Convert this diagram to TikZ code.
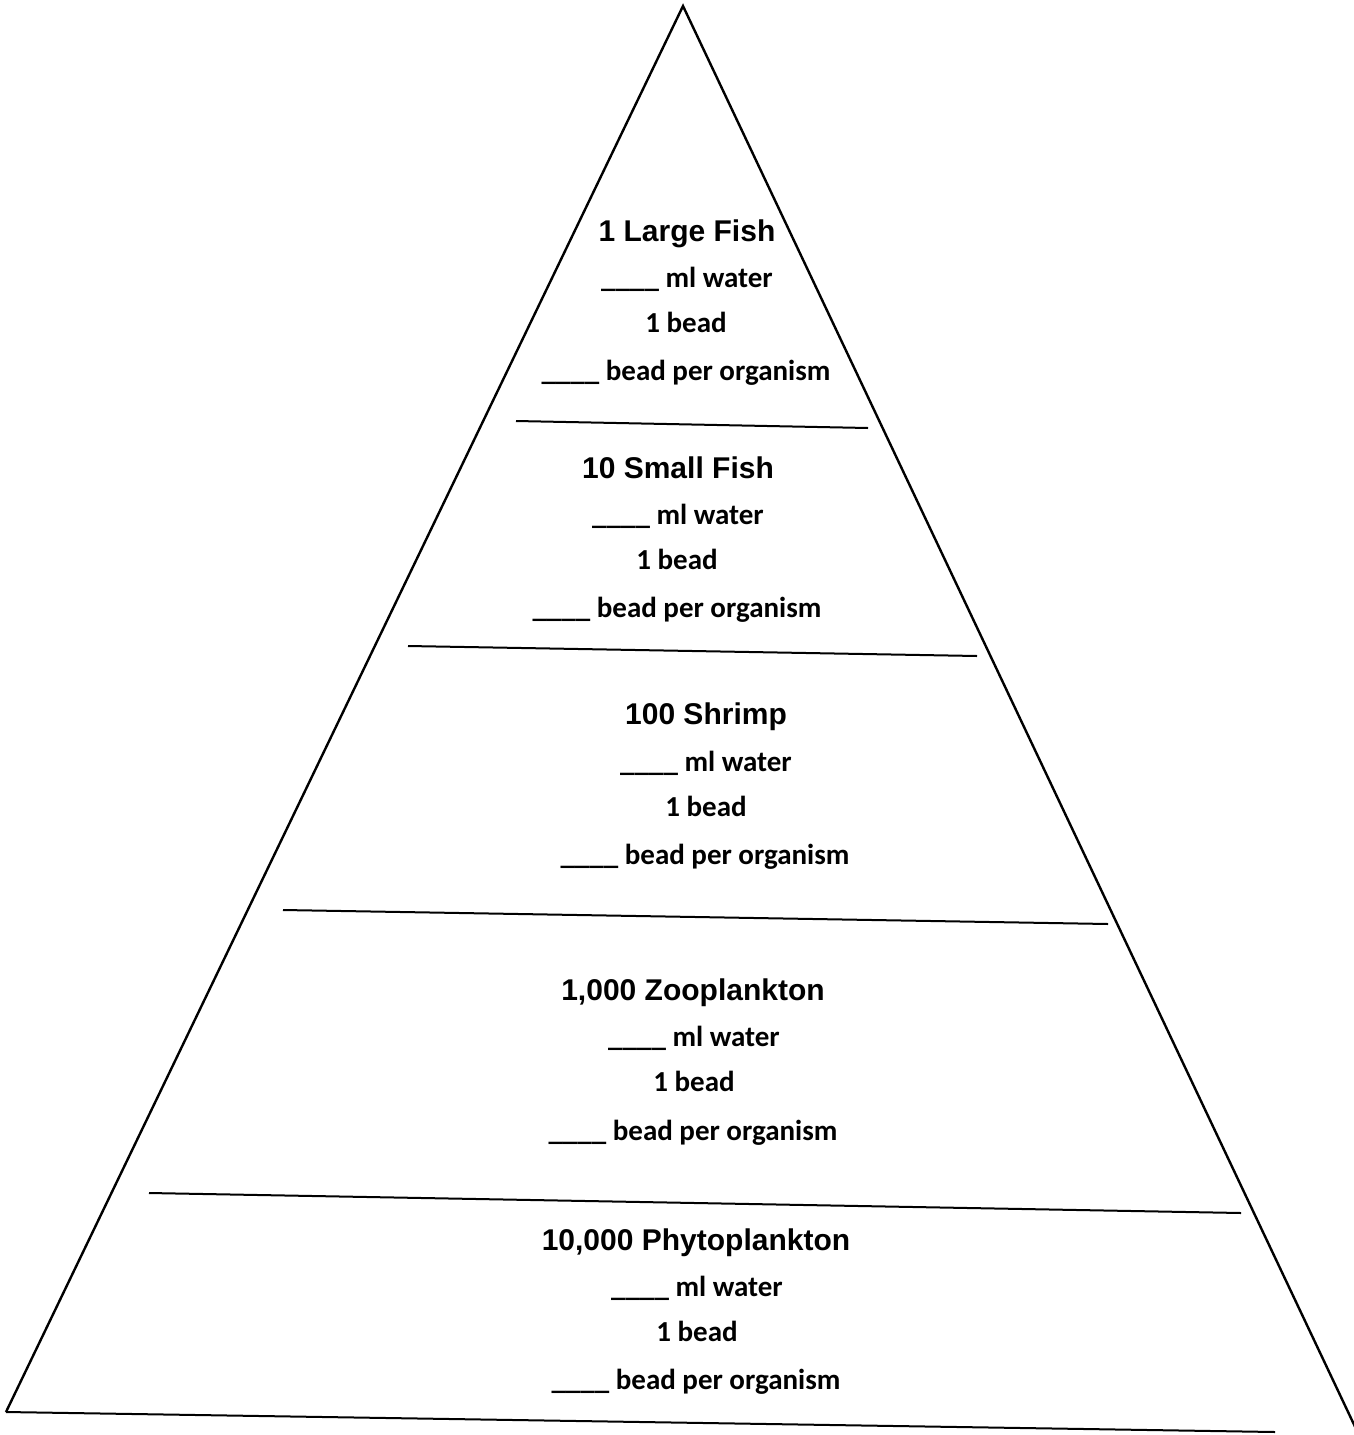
\documentclass[tikz,border=0pt]{standalone}
\usepackage{fontspec}
\setmainfont{Carlito}
\newfontfamily\titlefont{Liberation Sans}
\begin{document}
\begin{tikzpicture}[x=1pt,y=-1pt,
  edge/.style={line width=2.4pt,line join=miter},
  divider/.style={line width=2pt},
  ttl/.style={anchor=base,inner sep=0pt,font=\titlefont\bfseries\fontsize{30}{36}\selectfont},
  txt/.style={anchor=base,inner sep=0pt,font=\bfseries\fontsize{29}{34}\selectfont}]
\useasboundingbox (0,0) rectangle (1354,1435);
% outline of the pyramid
\coordinate (apex) at (683,6);
\coordinate (bl) at (6,1412);
\coordinate (br) at (1275,1432);
\coordinate (rend) at (1358,1433);
\draw[edge] (bl) -- (apex) -- (rend);
\draw[divider] (bl) -- (br);
% dividers
\coordinate (d1a) at (516,421); \coordinate (d1b) at (868,428);
\coordinate (d2a) at (408,646); \coordinate (d2b) at (977,656);
\coordinate (d3a) at (283,910); \coordinate (d3b) at (1108,924);
\coordinate (d4a) at (149,1193); \coordinate (d4b) at (1241,1213);
\draw[divider] (d1a) -- (d1b);
\draw[divider] (d2a) -- (d2b);
\draw[divider] (d3a) -- (d3b);
\draw[divider] (d4a) -- (d4b);
% level 1
\node[ttl] (t1) at (687,241) {1 Large Fish};
\node[txt] (w1) at (687,287) {\_\_\_\_ ml water};
\node[txt] (b1) at (686,332) {1 bead};
\node[txt] (p1) at (686,380) {\_\_\_\_ bead per organism};
% level 2
\node[ttl] (t2) at (678,478) {10 Small Fish};
\node[txt] (w2) at (678,524) {\_\_\_\_ ml water};
\node[txt] (b2) at (677,569) {1 bead};
\node[txt] (p2) at (677,617) {\_\_\_\_ bead per organism};
% level 3
\node[ttl] (t3) at (706,724) {100 Shrimp};
\node[txt] (w3) at (706,771) {\_\_\_\_ ml water};
\node[txt] (b3) at (706,816) {1 bead};
\node[txt] (p3) at (705,864) {\_\_\_\_ bead per organism};
% level 4
\node[ttl] (t4) at (693,1000) {1,000 Zooplankton};
\node[txt] (w4) at (694,1046) {\_\_\_\_ ml water};
\node[txt] (b4) at (694,1091) {1 bead};
\node[txt] (p4) at (693,1140) {\_\_\_\_ bead per organism};
% level 5
\node[ttl] (t5) at (696,1250) {10,000 Phytoplankton};
\node[txt] (w5) at (697,1296) {\_\_\_\_ ml water};
\node[txt] (b5) at (697,1341) {1 bead};
\node[txt] (p5) at (696,1389) {\_\_\_\_ bead per organism};
\end{tikzpicture}
\end{document}
